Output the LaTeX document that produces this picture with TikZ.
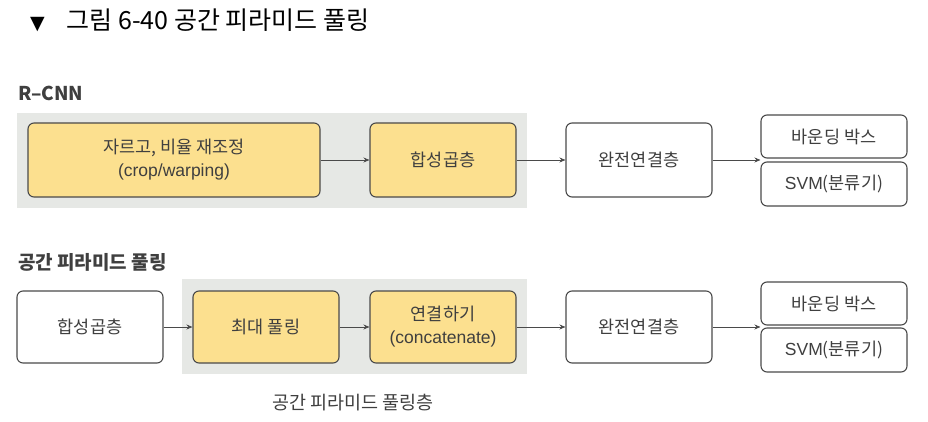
\documentclass[tikz,border=0pt]{standalone}
\usepackage{fontspec}
\setmainfont{Noto Sans CJK KR}
\newfontfamily\symfont{DejaVu Sans}
\newfontfamily\latfont{Liberation Sans}
\usetikzlibrary{arrows.meta}
\definecolor{boxyellow}{HTML}{FCE08F}
\definecolor{bggrey}{HTML}{E6E8E5}
\definecolor{lineg}{HTML}{4A4A4A}
\definecolor{txtg}{HTML}{3F3F3F}
\tikzset{
  bx/.style={draw=lineg, line width=1.1pt, rounded corners=6pt, fill=white,
    text=txtg, align=center, font=\fontsize{17.5}{23}\selectfont, inner sep=0pt},
  ybx/.style={bx, fill=boxyellow},
  arr/.style={draw=lineg, line width=0.9pt, -{Stealth[length=6pt,width=5pt]}},
  lbl/.style={text=txtg, font=\fontsize{19}{22}\selectfont\bfseries, anchor=west, inner sep=0pt},
  bg/.style={fill=bggrey, draw=none}
}
\begin{document}
\begin{tikzpicture}[x=1pt,y=-1pt]
\useasboundingbox (0,0) rectangle (928,422);
% title
\node[anchor=west, inner sep=0pt, text=black, font=\fontsize{25}{30}\selectfont] (title) at (30,20) {{\symfont\fontsize{19}{22}\selectfont ▼}\hspace{22pt}그림 6-40 공간 피라미드 풀링};
% R-CNN
\node[lbl] (l1) at (18,93) {R–CNN};
\path[bg] (17,113) rectangle (527,208);
\node[ybx, minimum width=292pt, minimum height=74pt] (a1) at (174,160) {자르고, 비율 재조정\\{\latfont (crop/warping)}};
\node[ybx, minimum width=146pt, minimum height=74pt] (a2) at (443,160) {합성곱층};
\node[bx, minimum width=146pt, minimum height=74pt] (a3) at (639,160) {완전연결층};
\node[bx, minimum width=146pt, minimum height=43pt] (a4) at (834,136.5) {바운딩 박스};
\node[bx, minimum width=146pt, minimum height=44pt] (a5) at (834,184) {{\latfont SVM}(분류기)};
\draw[arr] (a1.east) -- (a2.west);
\draw[arr] (a2.east) -- (a3.west);
\draw[arr] (a3.east) -- (a3.east -| a4.west);
% SPP
\node[lbl] (l2) at (18,262) {공간 피라미드 풀링};
\path[bg] (182,279) rectangle (527,374);
\node[bx, minimum width=146pt, minimum height=72pt] (b1) at (90,327) {합성곱층};
\node[ybx, minimum width=146pt, minimum height=72pt] (b2) at (266,327) {최대 풀링};
\node[ybx, minimum width=146pt, minimum height=72pt] (b3) at (443,327) {연결하기\\{\latfont (concatenate)}};
\node[bx, minimum width=146pt, minimum height=72pt] (b4) at (639,327) {완전연결층};
\node[bx, minimum width=146pt, minimum height=43pt] (b5) at (834,303.5) {바운딩 박스};
\node[bx, minimum width=146pt, minimum height=44pt] (b6) at (834,350) {{\latfont SVM}(분류기)};
\draw[arr] (b1.east) -- (b2.west);
\draw[arr] (b2.east) -- (b3.west);
\draw[arr] (b3.east) -- (b4.west);
\draw[arr] (b4.east) -- (b4.east -| b5.west);
\node[text=txtg, inner sep=0pt, font=\fontsize{18.5}{22}\selectfont] (cap) at (353,403) {공간 피라미드 풀링층};
\end{tikzpicture}
\end{document}
